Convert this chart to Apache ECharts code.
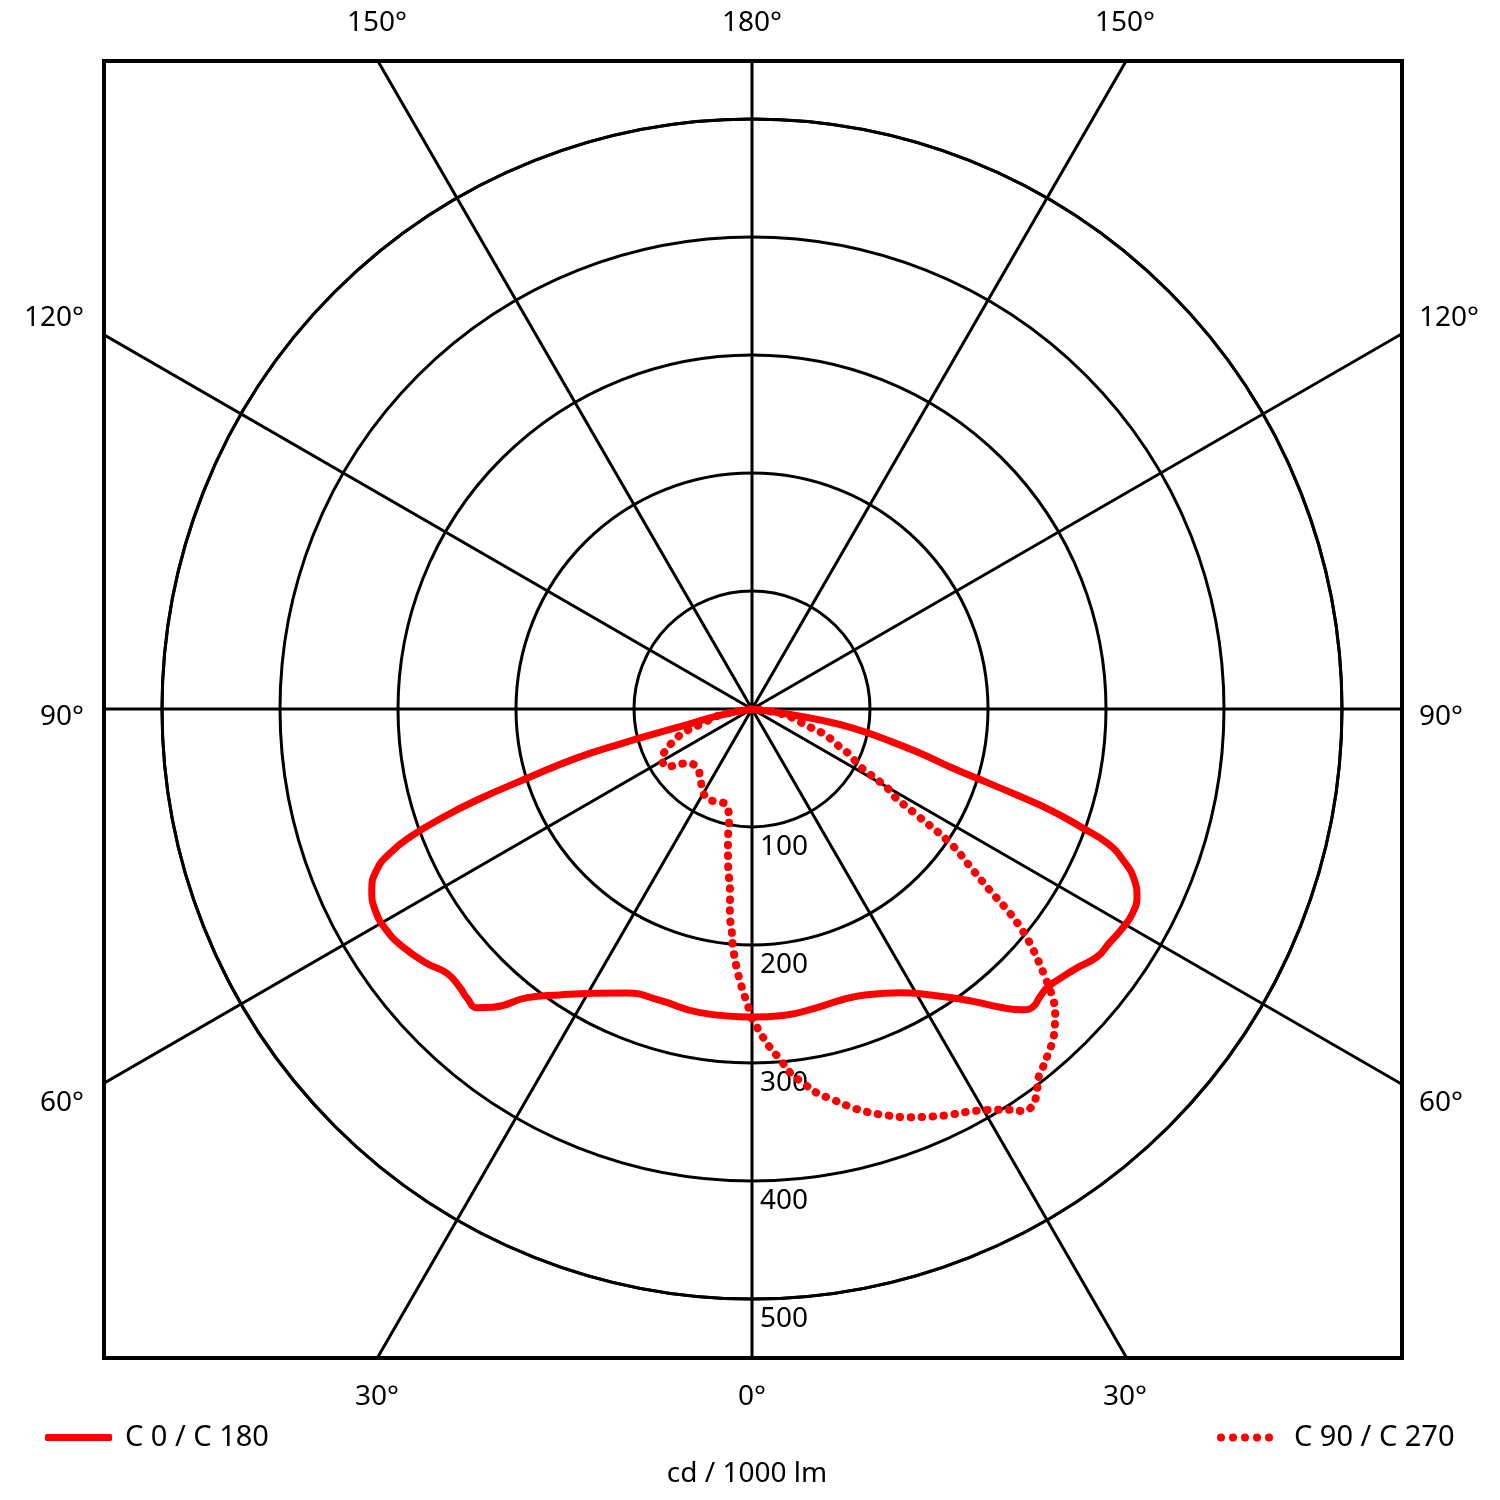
<!DOCTYPE html>
<html>
<head>
<meta charset="utf-8">
<script src="https://cdn.jsdelivr.net/npm/echarts@6/dist/echarts.min.js"></script>
<style>html,body{margin:0;padding:0;background:#fff}#c{width:1500px;height:1500px}</style>
</head>
<body>
<div id="c"></div>
<script>
// gamma angles (deg from nadir) and intensities (cd / 1000 lm)
const gammaC0 = [0, 5.8, 12.3, 17.4, 21.9, 27.5, 32.3, 36.5, 39.8, 42.0, 43.3, 45.0, 46.7, 48.9, 51.4, 54.3, 56.8, 59.6, 61.8, 64.0, 65.9, 67.9, 69.3, 70.2, 71.3, 72.0, 72.9, 73.7, 75.3, 77.1, 79.3, 80.8, 82, 90];
const cdC0    = [261, 261, 259, 258, 261, 271, 287, 307, 329, 343, 347, 345, 344, 347, 352, 360, 362, 365, 366, 363, 355, 339, 322, 298, 267, 236, 199, 175, 147, 117, 87, 58, 30, 0];

const gammaC180 = [0, 9.7, 17.5, 23.8, 29.2, 33.9, 37.9, 41.0, 42.6, 44.6, 46.4, 49.1, 52.0, 55.7, 58.8, 61.9, 64.5, 66.8, 68.3, 69.5, 70.7, 71.7, 72.9, 74.4, 75.2, 75.8, 76.4, 79, 90];
const cdC180    = [261, 261, 259, 263, 276, 292, 310, 335, 344, 344, 342, 342, 350, 358, 362, 362, 357, 346, 330, 309, 277, 245, 199, 154, 113, 80, 57, 28, 0];

const gammaC90 = [0, 1.4, 3.0, 4.6, 6.0, 7.8, 9.6, 11.7, 13.8, 15.9, 18.4, 20.8, 23.2, 25.7, 28.1, 30.4, 32.8, 34.0, 35.1, 36.6, 37.6, 39.1, 40.7, 42.3, 43.6, 44.9, 46.0, 47.6, 49.4, 50.7, 51.8, 52.7, 53.9, 55.9, 57.4, 58.4, 59.7, 61.3, 62.2, 64.9, 66.6, 68.8, 71.1, 72.4, 74.4, 77.6, 82, 90];
const cdC90    = [262, 274, 287, 298, 310, 320, 330, 338, 347, 355, 363, 370, 376, 382, 387, 394, 404, 411, 412, 405, 397, 391, 385, 379, 372, 364, 355, 336, 314, 296, 275, 253, 232, 203, 162, 142, 133, 111, 102, 92, 81, 73, 63, 53, 44, 36, 20, 0];

const gammaC270 = [0, 1.0, 2.1, 3.3, 4.6, 5.1, 6.2, 6.8, 8.6, 10.4, 11.6, 15.2, 20.6, 26.8, 32.3, 37, 43, 49.8, 53.3, 55.7, 61.4, 64.8, 67.3, 70.8, 74, 79, 90];
const cdC270    = [262, 249, 236, 221, 202, 191, 174, 157, 135, 113, 97, 84, 84, 85, 79, 73, 68, 71, 79, 87, 87, 80, 73, 62, 43, 28, 0];

const radiusTicks = [100, 200, 300, 400, 500];
const angleLabelsTop = ['150°', '180°', '150°'];
const angleLabelsSide = ['120°', '90°', '60°'];
const angleLabelsBottom = ['30°', '0°', '30°'];
const legendNames = ['C 0 / C 180', 'C 90 / C 270'];
const unitLabel = 'cd / 1000 lm';

const FONT = '"Noto Sans", "Open Sans", sans-serif';
const RED = '#ff0000';

const right = (g, v) => g.map((a, i) => [v[i], a]);
const left = (g, v) => g.map((a, i) => [v[i], 360 - a]);

const DOTS_ICON = 'path://M0,4a4,4 0 1,0 8,0a4,4 0 1,0 -8,0Z M12,4a4,4 0 1,0 8,0a4,4 0 1,0 -8,0Z M24,4a4,4 0 1,0 8,0a4,4 0 1,0 -8,0Z M36,4a4,4 0 1,0 8,0a4,4 0 1,0 -8,0Z M48,4a4,4 0 1,0 8,0a4,4 0 1,0 -8,0Z';

const chart = echarts.init(document.getElementById('c'), null, {renderer: 'canvas'});

function txt(text, x, y, align) {
  return {type: 'text', z: 110, style: {text, x, y, align: align || 'center', verticalAlign: 'middle', textAlign: align || 'center', textVerticalAlign: 'middle', fill: '#000', font: '28px ' + FONT}};
}

const solidStyle = {color: RED, width: 7};
const dotStyle = {color: RED, width: 8, type: [0.5, 10.5], cap: 'round'};

const option = {
  backgroundColor: '#fff',
  animation: false,
  polar: [
    {center: [752, 709], radius: 590},
    {center: [752, 709], radius: 940}
  ],
  angleAxis: [
    {polarIndex: 0, type: 'value', min: 0, max: 360, startAngle: 270, clockwise: false,
     axisLine: {show: true, lineStyle: {color: '#000', width: 3}},
     axisTick: {show: false}, axisLabel: {show: false}, splitLine: {show: false}},
    {polarIndex: 1, type: 'value', min: 0, max: 360, interval: 30, startAngle: 270, clockwise: false,
     axisLine: {show: false}, axisTick: {show: false}, axisLabel: {show: false},
     splitLine: {show: true, lineStyle: {color: '#000', width: 3}}}
  ],
  radiusAxis: [
    {polarIndex: 0, type: 'value', min: 0, max: 500, interval: 100,
     axisLine: {show: false}, axisTick: {show: false},
     axisLabel: {show: true, showMinLabel: false, color: '#000', fontSize: 28, fontFamily: FONT,
       align: 'left', verticalAlign: 'top', margin: 6, padding: [6, 0, 0, 2],
       formatter: v => radiusTicks.includes(v) ? String(v) : ''},
     splitLine: {show: true, lineStyle: {color: '#000', width: 3}}},
    {polarIndex: 1, type: 'value', min: 0, max: 500,
     axisLine: {show: false}, axisTick: {show: false}, axisLabel: {show: false}, splitLine: {show: false}}
  ],
  legend: [
    {data: [{name: legendNames[0], icon: 'roundRect'}], left: 40, top: 1418, itemWidth: 67, itemHeight: 7, z: 200,
     itemStyle: {color: RED, borderWidth: 0},
     textStyle: {fontSize: 29, fontFamily: FONT, color: '#000', padding: [0, 0, 0, 8]}},
    {data: [{name: legendNames[1], icon: DOTS_ICON}], left: 1212, top: 1418, itemWidth: 56, itemHeight: 8, z: 200,
     itemStyle: {color: RED, borderWidth: 0},
     textStyle: {fontSize: 29, fontFamily: FONT, color: '#000', padding: [0, 0, 0, 16]}}
  ],
  series: [
    {name: legendNames[0], type: 'line', coordinateSystem: 'polar', polarIndex: 0, symbol: 'none', smooth: 0.5,
     lineStyle: solidStyle, itemStyle: {color: RED}, data: right(gammaC0, cdC0)},
    {name: legendNames[0], type: 'line', coordinateSystem: 'polar', polarIndex: 0, symbol: 'none', smooth: 0.5,
     lineStyle: solidStyle, itemStyle: {color: RED}, data: left(gammaC180, cdC180)},
    {name: legendNames[1], type: 'line', coordinateSystem: 'polar', polarIndex: 0, symbol: 'none', smooth: 0.4,
     lineStyle: dotStyle, itemStyle: {color: RED}, data: right(gammaC90, cdC90)},
    {name: legendNames[1], type: 'line', coordinateSystem: 'polar', polarIndex: 0, symbol: 'none', smooth: 0.4,
     lineStyle: dotStyle, itemStyle: {color: RED}, data: left(gammaC270, cdC270)}
  ],
  graphic: [
    {type: 'rect', z: 100, shape: {x: 0, y: 0, width: 1500, height: 61}, style: {fill: '#fff'}},
    {type: 'rect', z: 100, shape: {x: 0, y: 1358, width: 1500, height: 142}, style: {fill: '#fff'}},
    {type: 'rect', z: 100, shape: {x: 0, y: 0, width: 104, height: 1500}, style: {fill: '#fff'}},
    {type: 'rect', z: 100, shape: {x: 1402, y: 0, width: 98, height: 1500}, style: {fill: '#fff'}},
    {type: 'rect', z: 105, shape: {x: 104, y: 61, width: 1298, height: 1297}, style: {fill: null, stroke: '#000', lineWidth: 4}},
    txt(angleLabelsTop[0], 377, 23), txt(angleLabelsTop[1], 752, 23), txt(angleLabelsTop[2], 1125, 23),
    txt(angleLabelsSide[0], 84, 318, 'right'), txt(angleLabelsSide[1], 84, 717, 'right'), txt(angleLabelsSide[2], 84, 1103, 'right'),
    txt(angleLabelsSide[0], 1419, 318, 'left'), txt(angleLabelsSide[1], 1419, 717, 'left'), txt(angleLabelsSide[2], 1419, 1103, 'left'),
    txt(angleLabelsBottom[0], 377, 1397), txt(angleLabelsBottom[1], 752, 1397), txt(angleLabelsBottom[2], 1125, 1397),
    txt(unitLabel, 747, 1474)
  ]
};
chart.setOption(option);
</script>
</body>
</html>
